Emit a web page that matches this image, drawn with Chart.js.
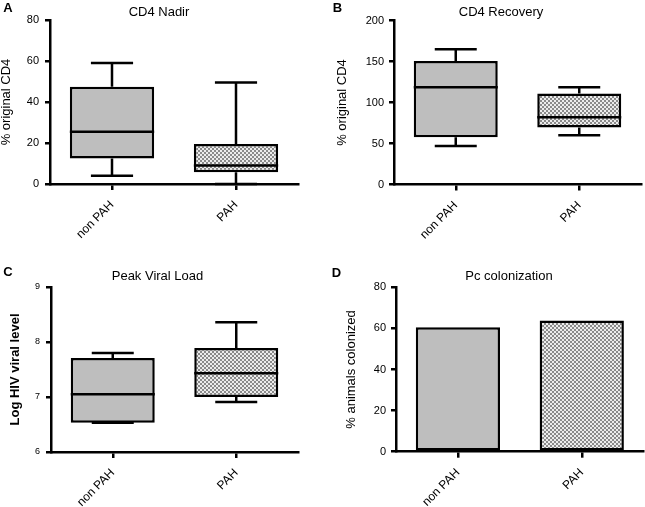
<!DOCTYPE html>
<html>
<head>
<meta charset="utf-8">
<script src="https://cdn.jsdelivr.net/npm/chart.js@4/dist/chart.umd.min.js"></script>
<style>
  html, body { margin: 0; padding: 0; background: #fff; }
  #wrap { position: relative; width: 645px; height: 507px; overflow: hidden; }
  canvas { position: absolute; }
</style>
</head>
<body>
<div id="wrap">
  <canvas id="panelA" width="320" height="255" style="left:0;top:0"></canvas>
  <canvas id="panelB" width="325" height="255" style="left:320px;top:0"></canvas>
  <canvas id="panelC" width="320" height="252" style="left:0;top:255px"></canvas>
  <canvas id="panelD" width="325" height="252" style="left:320px;top:255px"></canvas>
</div>
<script>
const categories = ["non PAH", "PAH"];

// A - CD4 Nadir (% original CD4)
const nadirMin = [4, 0];
const nadirQ1 = [12.5, 5.7];
const nadirMedian = [25.5, 9];
const nadirQ3 = [47.5, 19.5];
const nadirMax = [59, 49.5];
const nadirTicks = [0, 80, 20];

// B - CD4 Recovery (% original CD4)
const recoveryMin = [47, 60];
const recoveryQ1 = [57.5, 69.5];
const recoveryMedian = [118.5, 82];
const recoveryQ3 = [150.5, 111];
const recoveryMax = [165, 118.5];
const recoveryTicks = [0, 200, 50];

// C - Peak Viral Load (log HIV viral level)
const viralMin = [6.53, 6.91];
const viralQ1 = [6.53, 7.0];
const viralMedian = [7.05, 7.43];
const viralQ3 = [7.71, 7.89];
const viralMax = [7.8, 8.36];
const viralTicks = [6, 9, 1];

// D - Pc colonization (% animals colonized)
const colonized = [60.5, 63.8];
const colonizedTicks = [0, 80, 20];

const FONT = "'Liberation Sans', Arial, sans-serif";
const GRAY = "#bebebe";

// checkerboard fill used for the PAH group
function checker() {
    const c = document.createElement("canvas");
    c.width = 4; c.height = 4;
    const g = c.getContext("2d");
    g.fillStyle = "#ececec";
    g.fillRect(0, 0, 4, 4);
    g.fillStyle = "#8a8a8a";
    g.fillRect(0, 0, 2, 2);
    g.fillRect(2, 2, 2, 2);
    return g.createPattern(c, "repeat");
}
const CHECK = checker();

// median line + whiskers, drawn through the chart scales
const boxPlugin = {
    id: "boxWhiskers",
    afterDatasetsDraw(chart) {
        const ds = chart.data.datasets[0];
        if (!ds.stats) return;
        const s = ds.stats;
        const y = chart.scales.y;
        const meta = chart.getDatasetMeta(0);
        const ctx = chart.ctx;
        ctx.save();
        ctx.strokeStyle = "#000";
        ctx.lineWidth = 2.5;
        meta.data.forEach((bar, i) => {
            const cx = bar.x, half = bar.width / 2;
            const yMin = y.getPixelForValue(s.min[i]);
            const yQ1 = y.getPixelForValue(s.q1[i]);
            const yMed = y.getPixelForValue(s.median[i]);
            const yQ3 = y.getPixelForValue(s.q3[i]);
            const yMax = y.getPixelForValue(s.max[i]);
            ctx.beginPath();
            ctx.moveTo(cx - half, yMed); ctx.lineTo(cx + half, yMed);
            ctx.moveTo(cx, yQ3); ctx.lineTo(cx, yMax);
            ctx.moveTo(cx - half / 2, yMax); ctx.lineTo(cx + half / 2, yMax);
            ctx.moveTo(cx, yQ1); ctx.lineTo(cx, yMin);
            ctx.moveTo(cx - half / 2, yMin); ctx.lineTo(cx + half / 2, yMin);
            ctx.stroke();
        });
        ctx.restore();
    }
};

// panel letter + panel title
const labelPlugin = {
    id: "panelLabel",
    afterDraw(chart, args, o) {
        const ctx = chart.ctx;
        ctx.save();
        ctx.fillStyle = "#000";
        ctx.textBaseline = "middle";
        ctx.textAlign = "center";
        ctx.font = "bold 13px " + FONT;
        ctx.fillText(o.letter, o.lx, o.ly);
        ctx.font = "13px " + FONT;
        ctx.fillText(o.title, o.tx, o.ty);
        ctx.restore();
    }
};

function makePanel(id, p) {
    new Chart(document.getElementById(id), {
        type: "bar",
        data: {
            labels: categories,
            datasets: [{
                data: p.data,
                stats: p.stats,
                backgroundColor: [GRAY, CHECK],
                borderColor: "#000",
                borderWidth: 2.5,
                borderSkipped: false,
                barPercentage: 0.68,
                categoryPercentage: 1
            }]
        },
        options: {
            responsive: false,
            animation: false,
            layout: { padding: { top: p.top, right: p.right, left: 0, bottom: 0 } },
            plugins: {
                legend: { display: false },
                tooltip: { enabled: false },
                panelLabel: p.label
            },
            scales: {
                x: {
                    offset: true,
                    grid: { offset: false, drawOnChartArea: false, drawTicks: true, tickLength: 6, color: "#000", lineWidth: 2.5 },
                    border: { display: true, color: "#000", width: 2.5 },
                    ticks: { color: "#000", font: { family: FONT, size: 12 }, minRotation: 45, maxRotation: 45, padding: 8 },
                    afterFit: s => { s.height = p.xHeight; }
                },
                y: {
                    min: p.ticks[0], max: p.ticks[1],
                    grid: { drawOnChartArea: false, drawTicks: true, tickLength: 5, color: "#000", lineWidth: 2.5 },
                    border: { display: true, color: "#000", width: 2.5 },
                    ticks: { stepSize: p.ticks[2], color: "#000", font: { family: FONT, size: p.tickSize }, padding: p.tickPad },
                    title: {
                        display: true, text: p.yTitle, color: "#000",
                        font: { family: FONT, size: 13, weight: p.yBold ? "bold" : "normal", lineHeight: 1 },
                        padding: { top: p.yTitleOffset, bottom: 0 }
                    },
                    afterFit: s => { s.width = p.yWidth; }
                }
            }
        },
        plugins: [boxPlugin, labelPlugin]
    });
}

makePanel("panelA", {
    data: nadirQ1.map((v, i) => [v, nadirQ3[i]]),
    stats: { min: nadirMin, q1: nadirQ1, median: nadirMedian, q3: nadirQ3, max: nadirMax },
    ticks: nadirTicks, yTitle: "% original CD4", yBold: false,
    top: 20, right: 22, xHeight: 71, yWidth: 50, tickSize: 11, tickPad: 6, yTitleOffset: 0,
    label: { letter: "A", lx: 8, ly: 8, title: "CD4 Nadir", tx: 159, ty: 12 }
});

makePanel("panelB", {
    data: recoveryQ1.map((v, i) => [v, recoveryQ3[i]]),
    stats: { min: recoveryMin, q1: recoveryQ1, median: recoveryMedian, q3: recoveryQ3, max: recoveryMax },
    ticks: recoveryTicks, yTitle: "% original CD4", yBold: false,
    top: 20.5, right: 4, xHeight: 70.5, yWidth: 74, tickSize: 11, tickPad: 5, yTitleOffset: 15.5,
    label: { letter: "B", lx: 17.5, ly: 8, title: "CD4 Recovery", tx: 181, ty: 12.5 }
});

makePanel("panelC", {
    data: viralQ1.map((v, i) => [v, viralQ3[i]]),
    stats: { min: viralMin, q1: viralQ1, median: viralMedian, q3: viralQ3, max: viralMax },
    ticks: viralTicks, yTitle: "Log HIV viral level", yBold: true,
    top: 32, right: 22, xHeight: 55, yWidth: 51, tickSize: 9, tickPad: 6, yTitleOffset: 8.5,
    label: { letter: "C", lx: 8, ly: 17.5, title: "Peak Viral Load", tx: 157.5, ty: 21.5 }
});

makePanel("panelD", {
    data: colonized,
    stats: null,
    ticks: colonizedTicks, yTitle: "% animals colonized", yBold: false,
    top: 32.3, right: 1.3, xHeight: 55.3, yWidth: 76, tickSize: 11, tickPad: 5, yTitleOffset: 25,
    label: { letter: "D", lx: 16.5, ly: 18, title: "Pc colonization", tx: 189, ty: 21.5 }
});
</script>
</body>
</html>
